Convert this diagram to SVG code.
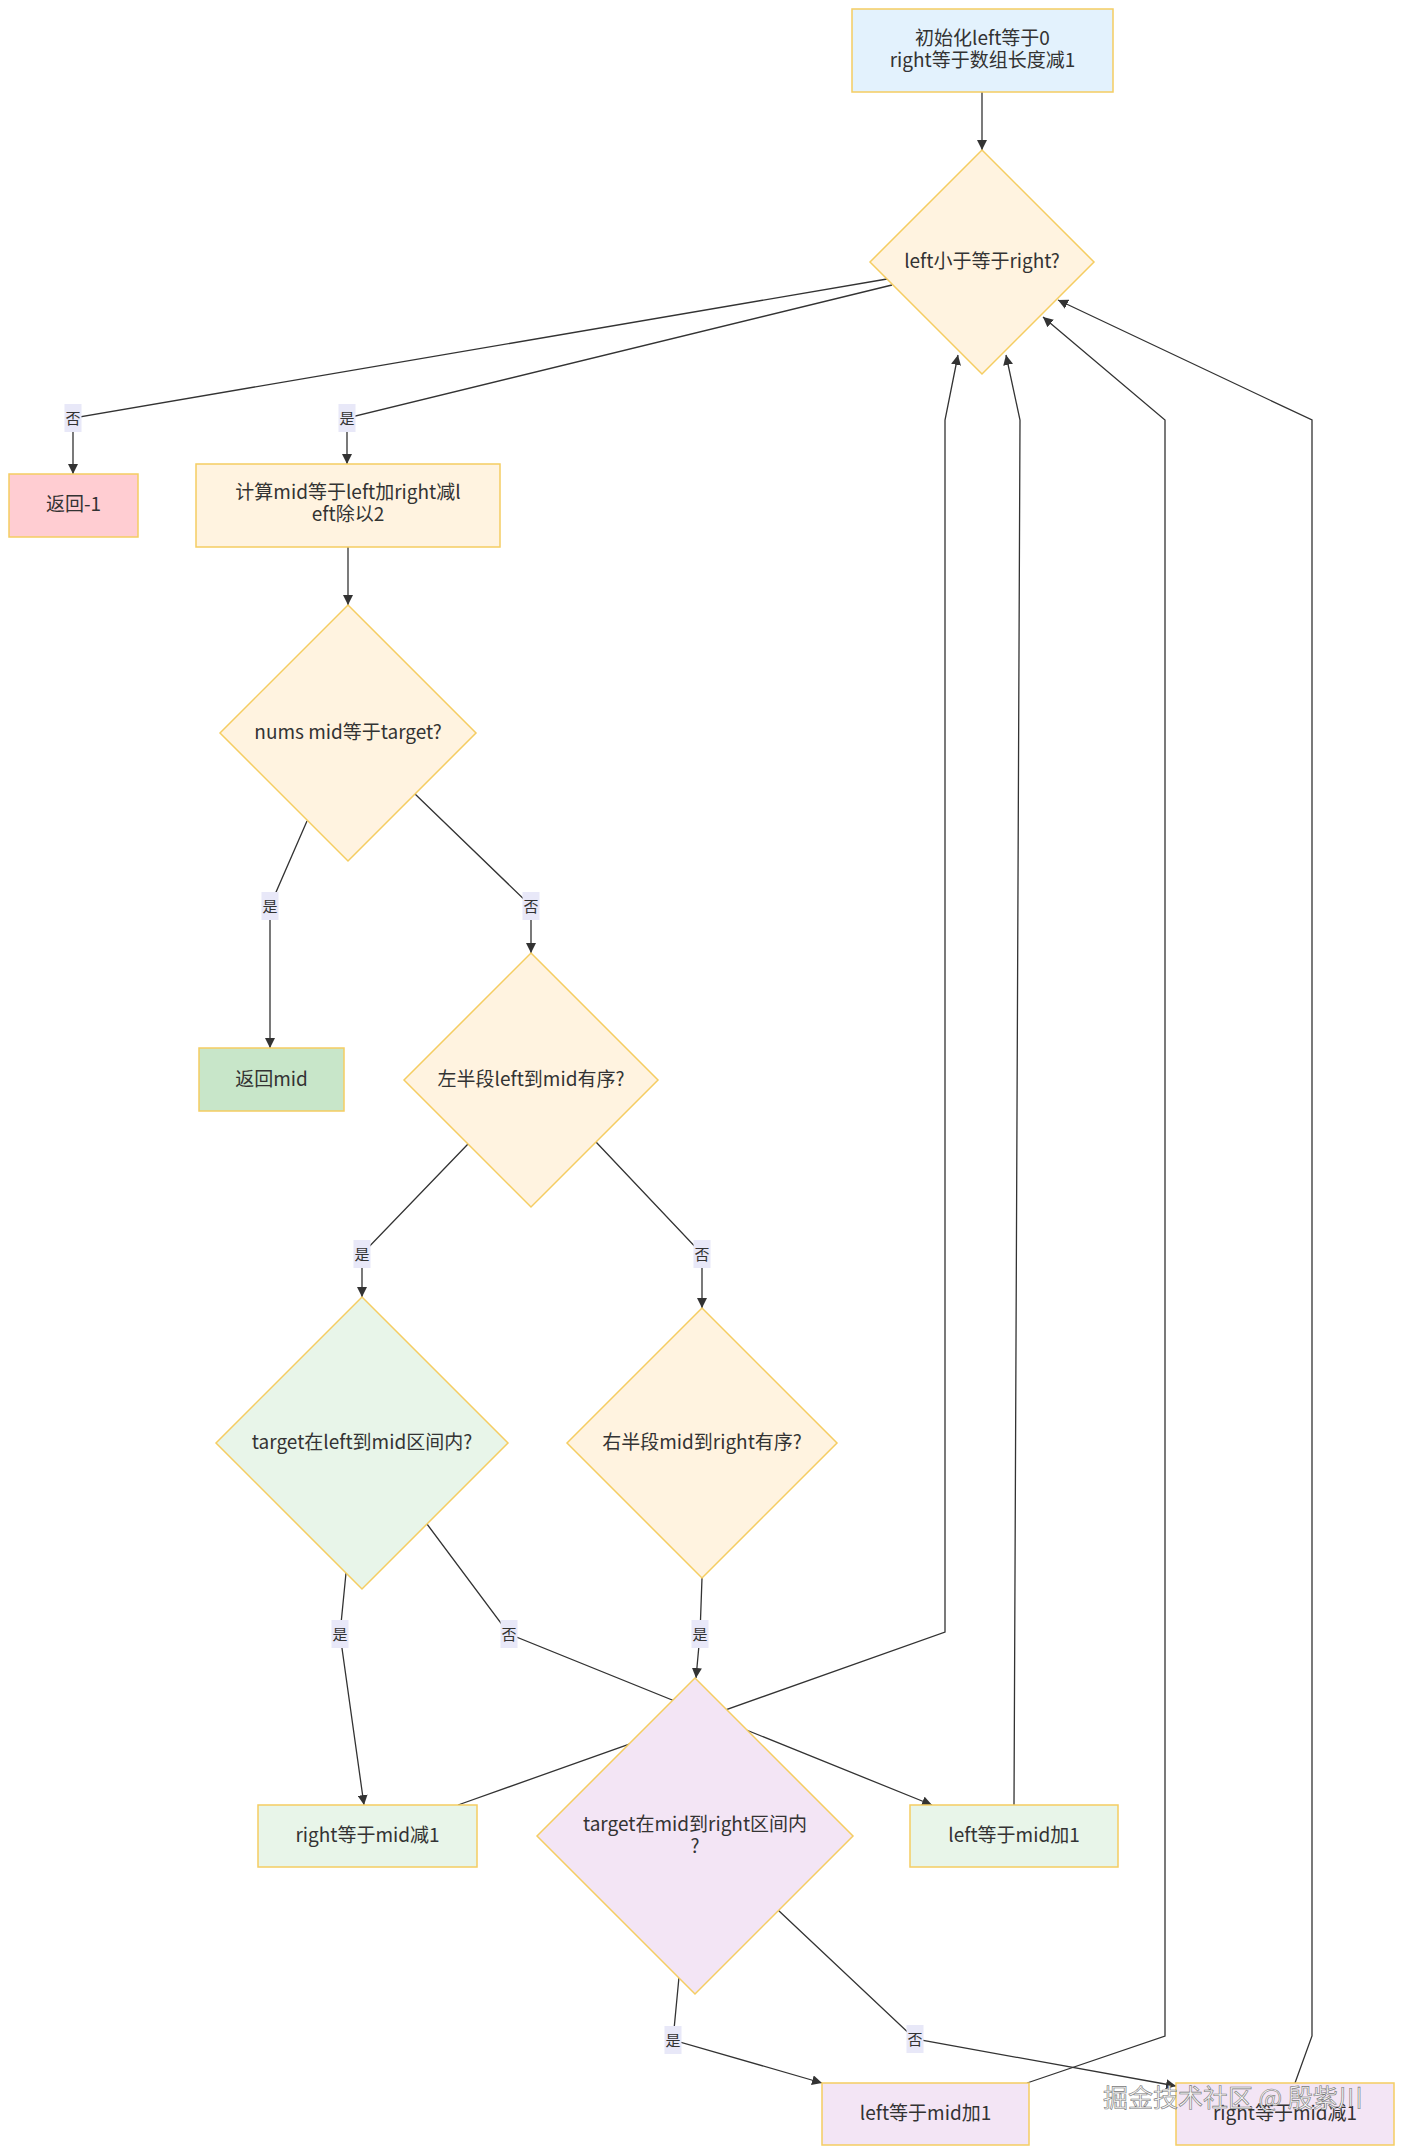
<svg xmlns="http://www.w3.org/2000/svg" width="1404" height="2154" viewBox="0 0 1404 2154">
<style>
.bg{fill:#ffffff}
.n{stroke:#f5cd62;stroke-width:1.5}
.blue{fill:#e3f2fd}
.pink{fill:#ffcdd2}
.orange{fill:#fff3e0}
.green{fill:#c8e6c9}
.lgreen{fill:#e8f5e9}
.purple{fill:#f3e5f5}
.t{font-family:"Noto Sans CJK SC","Noto Sans",sans-serif;font-size:19px;fill:#333;text-anchor:middle;dominant-baseline:central}
.e{fill:none;stroke:#333;stroke-width:1.3}
.lb{fill:#e8e8f8}
.lt{font-family:"Noto Sans CJK SC","Noto Sans",sans-serif;font-size:15px;fill:#333;text-anchor:middle;dominant-baseline:central}
.wm{font-family:"Noto Sans CJK SC","Noto Sans",sans-serif;font-size:25px;fill:#f4f4f4;stroke:#777;stroke-width:0.6}
</style>
<defs>
<marker id="arr" markerUnits="userSpaceOnUse" markerWidth="10" markerHeight="10" refX="10" refY="5" orient="auto">
<path d="M0,0 L10,5 L0,10 z" fill="#333"/>
</marker>
</defs>
<rect class="bg" x="0" y="0" width="1404" height="2154"/>
<g id="connectors">
<path class="e" marker-end="url(#arr)" d="M982,92 L982,150"/>
<path class="e" marker-end="url(#arr)" d="M887,279 L73,418 L73,474"/>
<path class="e" marker-end="url(#arr)" d="M892,285 L347,418 L347,464"/>
<path class="e" marker-end="url(#arr)" d="M348,547 L348,605"/>
<path class="e" marker-end="url(#arr)" d="M307,821 L270,906 L270,1048"/>
<path class="e" marker-end="url(#arr)" d="M415,794 L531,906 L531,953"/>
<path class="e" marker-end="url(#arr)" d="M468,1144 L362,1254 L362,1297"/>
<path class="e" marker-end="url(#arr)" d="M596,1142 L702,1254 L702,1308"/>
<path class="e" marker-end="url(#arr)" d="M346,1573 L340,1634 L364,1805"/>
<path class="e" marker-end="url(#arr)" d="M427,1524 L509,1634 L932,1805"/>
<path class="e" marker-end="url(#arr)" d="M702,1578 L700,1634 L696,1678"/>
<path class="e" marker-end="url(#arr)" d="M679,1977 L673,2040 L822,2083"/>
<path class="e" marker-end="url(#arr)" d="M778,1910 L915,2039 L1176,2086"/>
<path class="e" marker-end="url(#arr)" d="M458,1805 L945,1632 L945,420 L958,355"/>
<path class="e" marker-end="url(#arr)" d="M1014,1805 L1020,420 L1006,355"/>
<path class="e" marker-end="url(#arr)" d="M1027,2083 L1165,2036 L1165,420 L1043,317"/>
<path class="e" marker-end="url(#arr)" d="M1295,2083 L1312,2036 L1312,420 L1058,300"/>
</g>
<g id="edge-labels">
<g><rect class="lb" x="64.5" y="404" width="17" height="28"/><text class="lt" x="73" y="417">否</text></g>
<g><rect class="lb" x="338.5" y="404" width="17" height="28"/><text class="lt" x="347" y="417">是</text></g>
<g><rect class="lb" x="261.5" y="892" width="17" height="28"/><text class="lt" x="270" y="905">是</text></g>
<g><rect class="lb" x="522.5" y="892" width="17" height="28"/><text class="lt" x="531" y="905">否</text></g>
<g><rect class="lb" x="353.5" y="1240" width="17" height="28"/><text class="lt" x="362" y="1253">是</text></g>
<g><rect class="lb" x="693.5" y="1240" width="17" height="28"/><text class="lt" x="702" y="1253">否</text></g>
<g><rect class="lb" x="331.5" y="1620" width="17" height="28"/><text class="lt" x="340" y="1633">是</text></g>
<g><rect class="lb" x="500.5" y="1620" width="17" height="28"/><text class="lt" x="509" y="1633">否</text></g>
<g><rect class="lb" x="691.5" y="1620" width="17" height="28"/><text class="lt" x="700" y="1633">是</text></g>
<g><rect class="lb" x="664.5" y="2026" width="17" height="28"/><text class="lt" x="673" y="2039">是</text></g>
<g><rect class="lb" x="906.5" y="2025" width="17" height="28"/><text class="lt" x="915" y="2038">否</text></g>
</g>
<g id="init">
<rect class="n blue" x="852" y="9" width="261" height="83"/>
<text class="t" x="982.5" y="36">初始化left等于0</text>
<text class="t" x="982.5" y="58">right等于数组长度减1</text>
</g>
<g id="cond-loop">
<polygon class="n orange" points="982,150 1094,262 982,374 870,262"/>
<text class="t" x="982" y="259">left小于等于right?</text>
</g>
<g id="ret-neg">
<rect class="n pink" x="9" y="474" width="129" height="63"/>
<text class="t" x="73.5" y="502">返回-1</text>
</g>
<g id="calc-mid">
<rect class="n orange" x="196" y="464" width="304" height="83"/>
<text class="t" x="348" y="490">计算mid等于left加right减l</text>
<text class="t" x="348" y="512">eft除以2</text>
</g>
<g id="cond-eq">
<polygon class="n orange" points="348,605 476,733 348,861 220,733"/>
<text class="t" x="348" y="730">nums mid等于target?</text>
</g>
<g id="ret-mid">
<rect class="n green" x="199" y="1048" width="145" height="63"/>
<text class="t" x="271.5" y="1077">返回mid</text>
</g>
<g id="cond-left-sorted">
<polygon class="n orange" points="531,953 658,1080 531,1207 404,1080"/>
<text class="t" x="531" y="1077">左半段left到mid有序?</text>
</g>
<g id="cond-in-left">
<polygon class="n lgreen" points="362,1297 508,1443 362,1589 216,1443"/>
<text class="t" x="362" y="1440">target在left到mid区间内?</text>
</g>
<g id="cond-right-sorted">
<polygon class="n orange" points="702,1308 837,1443 702,1578 567,1443"/>
<text class="t" x="702" y="1440">右半段mid到right有序?</text>
</g>
<g id="cond-in-right">
<polygon class="n purple" points="695,1678 853,1836 695,1994 537,1836"/>
<text class="t" x="695" y="1822">target在mid到right区间内</text>
<text class="t" x="695" y="1844">?</text>
</g>
<g id="right-sub-a">
<rect class="n lgreen" x="258" y="1805" width="219" height="62"/>
<text class="t" x="367.5" y="1833">right等于mid减1</text>
</g>
<g id="left-add-a">
<rect class="n lgreen" x="910" y="1805" width="208" height="62"/>
<text class="t" x="1014" y="1833">left等于mid加1</text>
</g>
<g id="left-add-b">
<rect class="n purple" x="822" y="2083" width="207" height="62"/>
<text class="t" x="925.5" y="2111">left等于mid加1</text>
</g>
<g id="right-sub-b">
<rect class="n purple" x="1176" y="2083" width="218" height="62"/>
<text class="t" x="1285" y="2111">right等于mid减1</text>
</g>
<text class="wm" x="1103" y="2107">掘金技术社区 @ 殷紫川</text>
</svg>
